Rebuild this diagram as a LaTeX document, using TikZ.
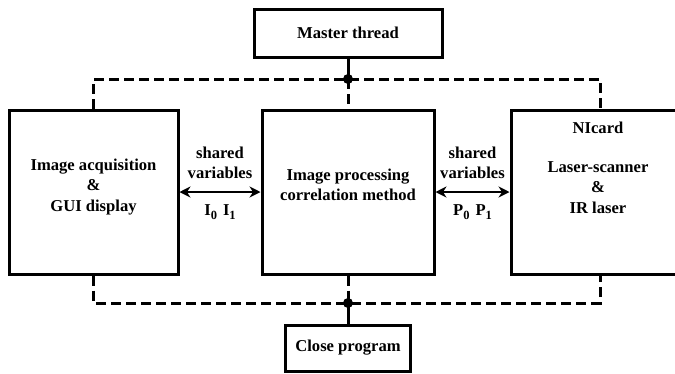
\documentclass[tikz,border=0pt]{standalone}
\usepackage{fontspec}
\setmainfont{Liberation Serif}
\usetikzlibrary{positioning,shapes,arrows.meta}

\newcommand{\lowsub}[1]{\raisebox{-4pt}{\fontsize{12.5}{12.5}\selectfont #1}}

\begin{document}
\begin{tikzpicture}[
  x=1pt, y=-1pt,
  font=\bfseries\fontsize{16.6}{20.5}\selectfont,
  mybox/.style={draw,line width=3pt,inner sep=0pt},
  mytext/.style={align=center,inner sep=0pt},
  mydash/.style={line width=3pt,dash pattern=on 10pt off 5pt},
  >={Stealth[length=11pt,width=11pt]}]
\useasboundingbox (0,0) rectangle (675,373);

\node[mybox, minimum width=188pt, minimum height=48pt] (master) at (348,33) {Master thread};
\node[mybox, minimum width=169pt, minimum height=164pt] (acq) at (93.5,192) {};
\node[mybox, minimum width=172pt, minimum height=164pt] (proc) at (348,192) {};
\node[mybox, minimum width=178pt, minimum height=164pt] (nicard) at (600,192) {};
\node[mybox, minimum width=125pt, minimum height=46pt] (close) at (348,348) {Close program};

\node[mytext] (acqtext) at (93.5,187) {Image acquisition\\\&\\GUI display};
\node[mytext] (proctext) at (348,185) {Image processing\\correlation method};
\node[mytext] (nicardtext) at (598,168) {NIcard\\[18pt]Laser-scanner\\\&\\IR laser};

\node[mytext] (sharedI) at (220,163) {shared\\variables};
\node[mytext] (varsI) at (220,212) {I\lowsub{0}\hspace{6pt}I\lowsub{1}};
\node[mytext] (sharedP) at (472.5,163) {shared\\variables};
\node[mytext] (varsP) at (472.5,212) {P\lowsub{0}\hspace{6pt}P\lowsub{1}};

\coordinate (topj) at (348,79);
\coordinate (botj) at (348,303);

% shared variables
\draw[<->,line width=2.5pt] (acq) -- (proc);
\draw[<->,line width=2.5pt] (proc) -- (nicard);

% threads
\draw[line width=3pt] (master) -- (topj);
\draw[mydash] (acq.north) -- (acq.north |- topj) -- (nicard.north |- topj) -- (nicard.north);
\draw[mydash] (topj) -- (proc.north);
\fill (topj) circle (5pt);

\draw[mydash] (acq.south) -- (acq.south |- botj) -- (nicard.south |- botj) -- (nicard.south);
\draw[mydash] (proc.south) -- (botj);
\draw[line width=3pt] (botj) -- (close);
\fill (botj) circle (5pt);

\end{tikzpicture}
\end{document}
